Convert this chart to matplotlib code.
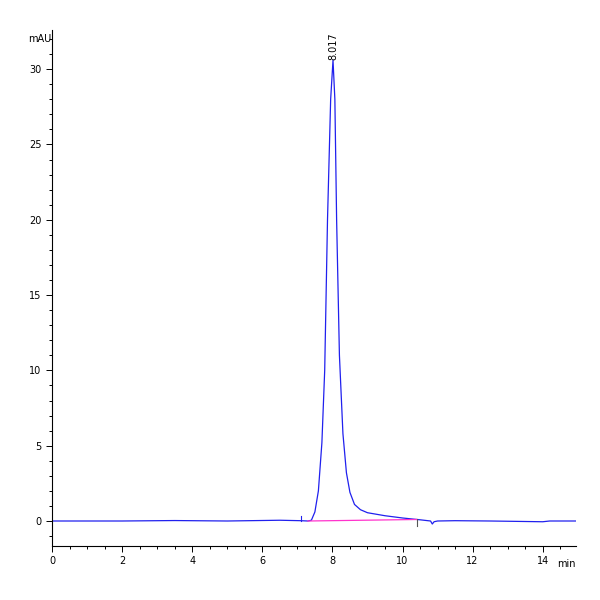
import matplotlib
matplotlib.use("Agg")
import matplotlib.pyplot as plt
import numpy as np
from matplotlib.ticker import MultipleLocator

time = [0, 2, 3.5, 5, 6.5, 7.1, 7.3, 7.4, 7.5, 7.6, 7.7, 7.78, 7.86, 7.95, 8.017, 8.07, 8.12, 8.2, 8.3,
        8.4, 8.5, 8.63, 8.8, 9.0, 9.5, 10.0, 10.5, 10.8, 10.85, 10.9, 11.0, 11.5, 12.5, 14.0, 14.2, 14.95]
signal = [0, 0, 0.03, 0, 0.05, 0.02, 0, 0.05, 0.6, 2.0, 5.2, 10, 20, 28, 30.6, 28, 20, 11, 5.8,
          3.2, 1.9, 1.1, 0.75, 0.55, 0.35, 0.2, 0.08, 0.0, -0.2, -0.05, 0.0, 0.02, 0.0, -0.05, 0.0, 0.0]
base_t = [7.3, 10.4]
base_v = [0.0, 0.1]
peak_rt = 8.017
peak_h = 30.6

fig = plt.figure(figsize=(6, 6), dpi=100)
ax = fig.add_axes([0.0867, 0.09, 0.8733, 0.86])
ax.plot(time, signal, color="#2020ee", lw=0.9)
ax.plot(base_t, base_v, color="#ff33cc", lw=0.9)
ax.plot([7.1, 7.1], [0, 0.35], color="#2020ee", lw=0.8)
ax.plot([10.4, 10.4], [0.1, -0.3], color="#555555", lw=0.8)
ax.text(peak_rt, peak_h, "8.017", rotation=90, ha="center", va="bottom", fontsize=7)
ax.set_xlim(0, 14.95)
ax.set_ylim(-1.66, 32.6)
for s in ["top", "right"]:
    ax.spines[s].set_visible(False)
ax.spines["bottom"].set_bounds(0, 14.95)
ax.xaxis.set_major_locator(MultipleLocator(2))
ax.xaxis.set_minor_locator(MultipleLocator(0.5))
ax.yaxis.set_major_locator(MultipleLocator(5))
ax.yaxis.set_minor_locator(MultipleLocator(1))
ax.tick_params(labelsize=7, length=4, width=0.7)
ax.tick_params(which="minor", length=2.5, width=0.7)
ax.text(-0.02, 32.0, "mAU", transform=ax.transData, ha="right", va="center", fontsize=7)
ax.text(14.95, -2.5, "min", ha="right", va="top", fontsize=7)
fig.savefig("out.png", dpi=100)
